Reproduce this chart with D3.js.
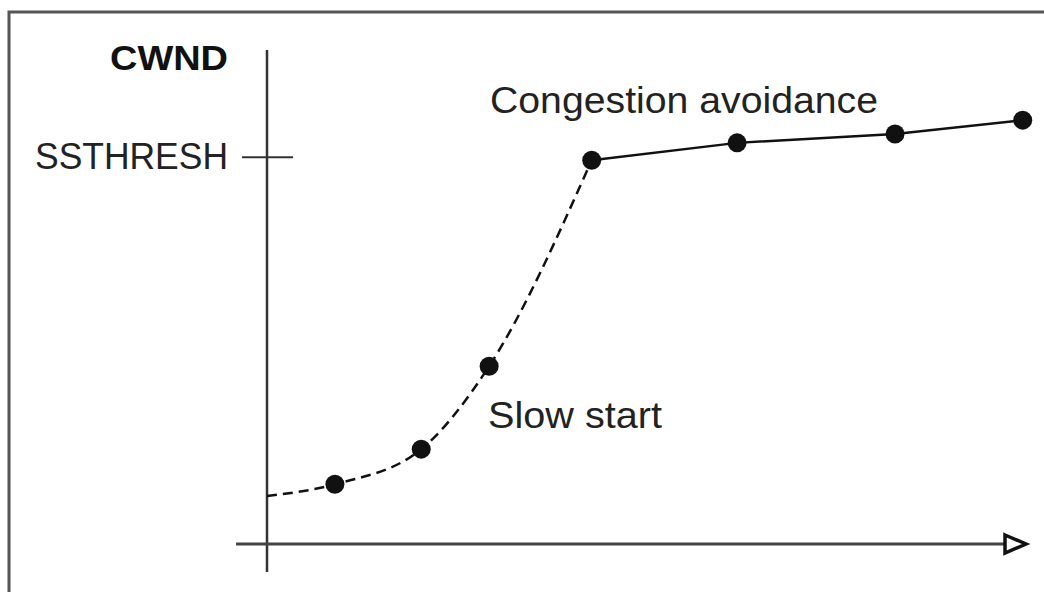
<!DOCTYPE html>
<html>
<head>
<meta charset="utf-8">
<script src="https://cdn.jsdelivr.net/npm/d3@7"></script>
<style>
  body { margin: 0; background: #fff; }
  text { font-family: "Liberation Sans", Arial, sans-serif; fill: #222; }
</style>
</head>
<body>
<div id="chart"></div>
<script>
// Time (x) and CWND (y) values, arbitrary units
const startPoint = { t: 0, cwnd: 0.97 };
const slowStartT = [0.92, 2.09, 3.01, 4.40];
const slowStartCwnd = [1.21, 1.92, 3.60, 7.77];
const avoidT = [6.37, 8.51, 10.24];
const avoidCwnd = [8.12, 8.30, 8.58];
const ssthresh = 7.83;

const width = 1044, height = 592;

const svg = d3.select("#chart").append("svg")
    .attr("width", width)
    .attr("height", height);

// scales
const x = d3.scaleLinear().domain([0, 10]).range([267, 1005]);
const y = d3.scaleLinear().domain([0, 10]).range([544, 50]);

// frame (top and left edges only visible)
svg.append("path")
    .attr("d", `M9,${height + 5} L9,12 L${width + 5},12`)
    .attr("fill", "none")
    .attr("stroke", "#555")
    .attr("stroke-width", 3);

// y axis
svg.append("line")
    .attr("x1", x(0)).attr("x2", x(0))
    .attr("y1", y(10)).attr("y2", 572)
    .attr("stroke", "#333").attr("stroke-width", 2.5);

// x axis
svg.append("line")
    .attr("x1", 236).attr("x2", x(10))
    .attr("y1", y(0)).attr("y2", y(0))
    .attr("stroke", "#444").attr("stroke-width", 3);

// hollow arrow head
svg.append("path")
    .attr("d", `M${x(10)},${y(0) - 9} L${x(10) + 21},${y(0)} L${x(10)},${y(0) + 9} Z`)
    .attr("fill", "#fff")
    .attr("stroke", "#111")
    .attr("stroke-width", 3.5)
    .attr("stroke-linejoin", "miter");

// SSTHRESH tick
svg.append("line")
    .attr("x1", x(0) - 25).attr("x2", x(0) + 26)
    .attr("y1", y(ssthresh)).attr("y2", y(ssthresh))
    .attr("stroke", "#333").attr("stroke-width", 2);

svg.append("text")
    .attr("x", 35).attr("y", y(ssthresh) + 12)
    .attr("font-size", 37)
    .attr("textLength", 193)
    .attr("lengthAdjust", "spacingAndGlyphs")
    .text("SSTHRESH");

svg.append("text")
    .attr("x", 110).attr("y", 70)
    .attr("font-size", 35)
    .attr("font-weight", "bold")
    .attr("textLength", 118)
    .attr("lengthAdjust", "spacingAndGlyphs")
    .style("fill", "#111")
    .text("CWND");

// slow start curve (dashed)
const slowData = [startPoint].concat(slowStartT.map((t, i) => ({ t: t, cwnd: slowStartCwnd[i] })));
const avoidData = [slowData[slowData.length - 1]].concat(avoidT.map((t, i) => ({ t: t, cwnd: avoidCwnd[i] })));

const line = d3.line()
    .x(d => x(d.t))
    .y(d => y(d.cwnd));

svg.append("path")
    .datum(slowData)
    .attr("d", line.curve(d3.curveMonotoneX))
    .attr("fill", "none")
    .attr("stroke", "#111")
    .attr("stroke-width", 2.5)
    .attr("stroke-dasharray", "10,6");

svg.append("path")
    .datum(avoidData)
    .attr("d", line.curve(d3.curveLinear))
    .attr("fill", "none")
    .attr("stroke", "#111")
    .attr("stroke-width", 2.5);

// dots
svg.selectAll("circle")
    .data(slowData.slice(1).concat(avoidData.slice(1)))
    .enter().append("circle")
    .attr("cx", d => x(d.t))
    .attr("cy", d => y(d.cwnd))
    .attr("r", 9.5)
    .attr("fill", "#111");

// annotations
svg.append("text")
    .attr("x", 490).attr("y", 113)
    .attr("font-size", 36)
    .attr("textLength", 388)
    .attr("lengthAdjust", "spacingAndGlyphs")
    .text("Congestion avoidance");

svg.append("text")
    .attr("x", 488).attr("y", 428)
    .attr("font-size", 36)
    .attr("textLength", 174)
    .attr("lengthAdjust", "spacingAndGlyphs")
    .text("Slow start");
</script>
</body>
</html>
